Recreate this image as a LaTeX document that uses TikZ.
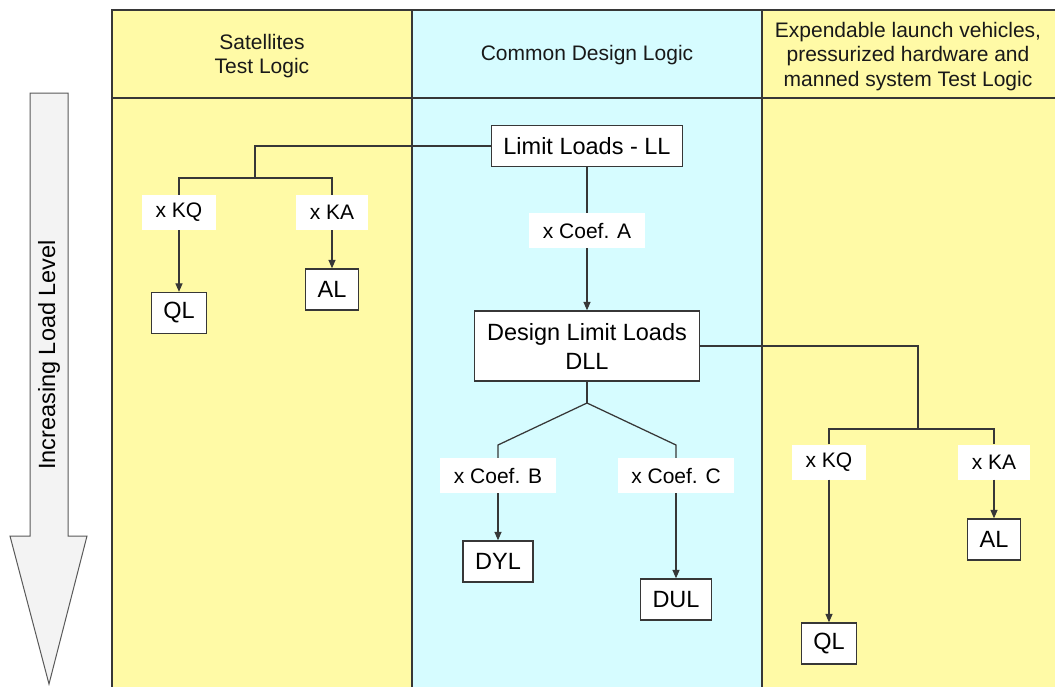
\documentclass[tikz,border=0pt]{standalone}
\usepackage{fontspec}
\setmainfont{Liberation Sans}
\usetikzlibrary{arrows.meta}
\definecolor{colyellow}{RGB}{255,250,166}
\definecolor{colcyan}{RGB}{214,252,255}
\definecolor{colline}{RGB}{55,55,55}
\definecolor{colarrow}{RGB}{243,243,243}
\begin{document}
\begin{tikzpicture}[x=1pt,y=-1pt,
  tab/.style={draw=colline,line width=1.3pt},
  conn/.style={draw=colline,line width=1.25pt},
  arr/.style={conn,-{Triangle[width=7pt,length=8.5pt]}},
  boxnode/.style={draw=colline,line width=1.3pt,fill=white,inner xsep=12pt,inner ysep=0pt,minimum height=41pt,font=\fontsize{23.5}{29}\selectfont,align=center},
  lbl/.style={fill=white,inner xsep=13.5pt,inner ysep=0pt,minimum height=35pt,font=\fontsize{21}{24}\selectfont},
  head/.style={align=center,font=\fontsize{21}{24.5}\selectfont,text=black!90}]
\useasboundingbox (0,0) rectangle (1055,686);
\fill[white] (0,0) rectangle (1055,686);
% columns
\fill[colyellow] (112,10) rectangle (412,690);
\fill[colcyan] (412,10) rectangle (762,690);
\fill[colyellow] (762,10) rectangle (1060,690);
\draw[tab] (1060,10) -- (112,10) -- (112,690);
\draw[tab] (412,10) -- (412,690);
\draw[tab] (762,10) -- (762,690);
\draw[tab] (112,98) -- (1060,98);
% headers
\node[head] (h1) at (262,56) {Satellites\\Test Logic};
\node[head] (h2) at (587,55) {Common Design Logic};
\node[head] (h3) at (908,56.5) {Expendable launch vehicles,\\pressurized hardware and\\manned system Test Logic};
% left big arrow
\draw[draw=black!65,line width=1pt,fill=colarrow] (30,93) -- (68,93) -- (68,536) -- (87,536) -- (49,684) -- (10,536) -- (30,536) -- cycle;
\node[rotate=90,font=\fontsize{23.5}{28}\selectfont] (lvl) at (49,355) {Increasing Load Level};
% center column
\node[boxnode] (ll) at (587,146) {Limit Loads - LL};
\node[lbl] (ca) at (587,230.5) {x Coef. A};
\node[boxnode,minimum height=70pt,inner xsep=12.5pt] (dll) at (587,346) {Design Limit Loads\\DLL};
\node[lbl] (cb) at (498,475.5) {x Coef. B};
\node[lbl] (cc) at (676,475.5) {x Coef. C};
\node[boxnode] (dyl) at (498,561.5) {DYL};
\node[boxnode] (dul) at (676,599.5) {DUL};
% left column
\node[lbl] (kq1) at (179,212.5) {x KQ};
\node[lbl] (ka1) at (332,212.5) {x KA};
\node[boxnode] (ql1) at (179,313) {QL};
\node[boxnode] (al1) at (332,289.5) {AL};
% right column
\node[lbl] (kq2) at (829,462) {x KQ};
\node[lbl] (ka2) at (994,462) {x KA};
\node[boxnode] (al2) at (994,539.5) {AL};
\node[boxnode] (ql2) at (829,643.5) {QL};
% junctions
\coordinate (j1) at (255,178);
\coordinate (j2) at (918,429);
\coordinate (j3) at (587,403);
\coordinate (jb) at (498,445);
\coordinate (jc) at (676,445);
% connectors center
\draw[conn] (ll.south) -- (ca.north);
\draw[arr] (ca.south) -- (dll.north);
\draw[conn] (dll.south) -- (j3);
\draw[conn] (j3) -- (jb) -- (cb.north);
\draw[conn] (j3) -- (jc) -- (cc.north);
\draw[arr] (cb.south) -- (dyl.north);
\draw[arr] (cc.south) -- (dul.north);
% connectors left
\draw[conn] (ll.west) -| (j1);
\draw[conn] (kq1.north) |- (j1) -| (ka1.north);
\draw[arr] (kq1.south) -- (ql1.north);
\draw[arr] (ka1.south) -- (al1.north);
% connectors right
\draw[conn] (dll.east) -| (j2);
\draw[conn] (kq2.north) |- (j2) -| (ka2.north);
\draw[arr] (kq2.south) -- (ql2.north);
\draw[arr] (ka2.south) -- (al2.north);
\end{tikzpicture}
\end{document}
